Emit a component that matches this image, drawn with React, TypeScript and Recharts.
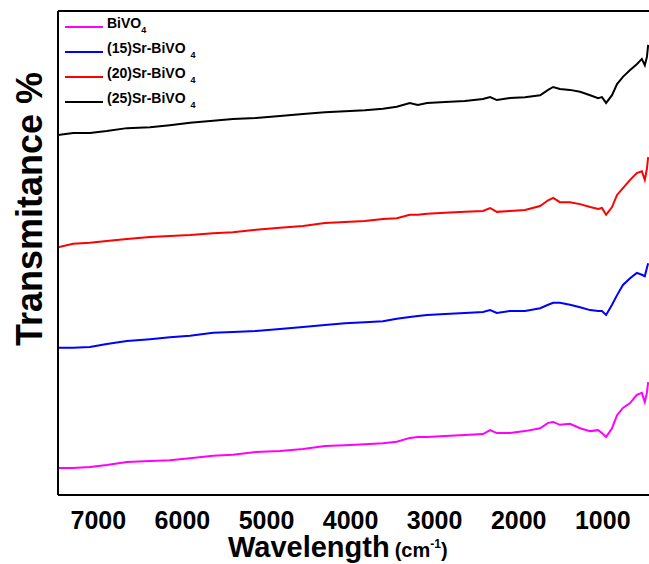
import { Label, Line, LineChart, ReferenceLine, XAxis, YAxis } from "recharts";

// FTIR spectra, wavenumber in cm-1 (shared sampling for all samples)
const WAVENUMBER = [
  7480, 7300, 7100, 6900, 6660, 6385, 6150, 5910, 5635, 5400, 5125, 4840, 4565, 4305, 4065, 3830,
  3615, 3450, 3295, 3200, 3090, 2875, 2640, 2425, 2340, 2260, 2105, 1925, 1745, 1650, 1590, 1510,
  1390, 1270, 1150, 1055, 1010, 960, 890, 830, 760, 675, 595, 535, 500, 475, 460,
];

const BIVO4 = [
  5.6, 5.6, 5.8, 6.2, 6.8, 7.0, 7.2, 7.6, 8.1, 8.3, 8.9, 9.1, 9.5, 10.1, 10.3, 10.5,
  10.7, 11.0, 11.8, 12.0, 12.0, 12.2, 12.4, 12.6, 13.4, 12.8, 12.8, 13.2, 13.8, 14.9, 15.1, 14.5,
  14.7, 13.8, 13.2, 13.4, 12.8, 12.0, 13.8, 16.5, 18.0, 19.0, 20.7, 21.1, 19.2, 21.1, 23.3,
];

const SR15 = [
  30.4, 30.4, 30.6, 31.2, 31.8, 32.2, 32.6, 32.9, 33.5, 33.7, 33.9, 34.3, 34.7, 35.1, 35.5, 35.7,
  35.9, 36.4, 36.8, 37.0, 37.2, 37.4, 37.6, 37.8, 38.2, 37.6, 38.0, 38.0, 38.6, 39.3, 39.7, 39.7,
  39.3, 38.8, 38.2, 38.0, 38.0, 37.2, 39.3, 41.3, 43.4, 44.8, 45.9, 45.5, 45.2, 46.9, 47.9,
];

const SR20 = [
  51.2, 51.9, 52.1, 52.5, 52.9, 53.3, 53.5, 53.7, 54.1, 54.3, 54.8, 55.2, 55.6, 56.2, 56.4, 56.6,
  57.0, 57.2, 57.9, 57.9, 58.1, 58.3, 58.5, 58.7, 59.3, 58.5, 58.7, 58.9, 59.7, 60.9, 61.4, 60.5,
  60.5, 60.1, 59.5, 59.1, 59.3, 57.9, 59.5, 62.0, 63.4, 65.1, 66.5, 66.9, 65.1, 67.4, 69.8,
];

const SR25 = [
  74.4, 74.8, 74.8, 75.2, 75.8, 76.0, 76.4, 76.9, 77.3, 77.7, 77.9, 78.3, 78.7, 79.1, 79.3, 79.5,
  79.8, 80.2, 81.0, 80.6, 81.0, 81.2, 81.4, 81.8, 82.2, 81.6, 82.0, 82.2, 82.6, 83.7, 84.3, 83.9,
  83.7, 83.3, 82.6, 82.0, 82.2, 81.0, 82.6, 84.9, 86.4, 87.8, 89.0, 90.1, 88.8, 90.5, 93.0,
];

const X_TICKS = [7000, 6000, 5000, 4000, 3000, 2000, 1000];

const SERIES = [
  { key: "bivo4", prefix: "BiVO", gap: false, color: "#ff00ff" },
  { key: "sr15", prefix: "(15)Sr-BiVO", gap: true, color: "#0000ff" },
  { key: "sr20", prefix: "(20)Sr-BiVO", gap: true, color: "#ff0000" },
  { key: "sr25", prefix: "(25)Sr-BiVO", gap: true, color: "#000000" },
];

const data = WAVENUMBER.map((w, i) => ({
  w,
  bivo4: BIVO4[i],
  sr15: SR15[i],
  sr20: SR20[i],
  sr25: SR25[i],
}));

const FONT = "'Liberation Sans', Arial, Helvetica, sans-serif";

function XTitle(props: any) {
  const vb = props.viewBox;
  return (
    <text x={vb.x + 170} y={vb.y + 62} fontFamily={FONT} fontWeight="bold" fill="#000">
      <tspan fontSize={29}>Wavelength</tspan>
      <tspan fontSize={20} dx={5}>(cm</tspan>
      <tspan fontSize={12} dy={-9}>-1</tspan>
      <tspan fontSize={20} dy={9}>)</tspan>
    </text>
  );
}

function YTitle(props: any) {
  const vb = props.viewBox;
  const cx = 42;
  const cy = vb.y + vb.height / 2 - 44;
  return (
    <text
      x={cx}
      y={cy}
      transform={`rotate(-90 ${cx} ${cy})`}
      textAnchor="middle"
      fontFamily={FONT}
      fontWeight="bold"
      fontSize={36}
      fill="#000"
    >
      Transmitance %
    </text>
  );
}

function SpectraLegend() {
  return (
    <div style={{ position: "absolute", left: 65, top: 14, fontFamily: FONT, fontWeight: "bold" }}>
      {SERIES.map((s) => (
        <div key={s.key} style={{ display: "flex", alignItems: "center", height: 25 }}>
          <div style={{ width: 38, height: 2, background: s.color, marginRight: 4 }} />
          <span style={{ fontSize: 14, lineHeight: "14px" }}>
            {s.prefix}
            <sub style={{ fontSize: 9, marginLeft: s.gap ? 5 : 0, verticalAlign: "-5px" }}>4</sub>
          </span>
        </div>
      ))}
    </div>
  );
}

export default function App() {
  return (
    <div style={{ position: "absolute", left: 0, top: 0, width: 649, height: 564, background: "#fff" }}>
      <LineChart width={649} height={564} data={data} margin={{ top: 11, right: 0, left: 0, bottom: 39 }}>
        <XAxis
          dataKey="w"
          type="number"
          domain={[450, 7480]}
          reversed
          allowDataOverflow
          ticks={X_TICKS}
          height={30}
          tickLine={false}
          tickSize={8}
          tickMargin={8}
          axisLine={{ stroke: "#000", strokeWidth: 2 }}
          tick={{ fill: "#000", fontSize: 25, fontWeight: "bold", fontFamily: FONT }}
        >
          <Label content={XTitle} />
        </XAxis>
        <YAxis
          type="number"
          domain={[0, 100]}
          width={58}
          tick={false}
          tickLine={false}
          axisLine={{ stroke: "#000", strokeWidth: 2 }}
        >
          <Label content={YTitle} />
        </YAxis>
        <ReferenceLine y={100} stroke="#000" strokeWidth={2} />
        {SERIES.map((s) => (
          <Line
            key={s.key}
            dataKey={s.key}
            type="linear"
            stroke={s.color}
            strokeWidth={2}
            dot={false}
            isAnimationActive={false}
          />
        ))}
      </LineChart>
      <SpectraLegend />
    </div>
  );
}
